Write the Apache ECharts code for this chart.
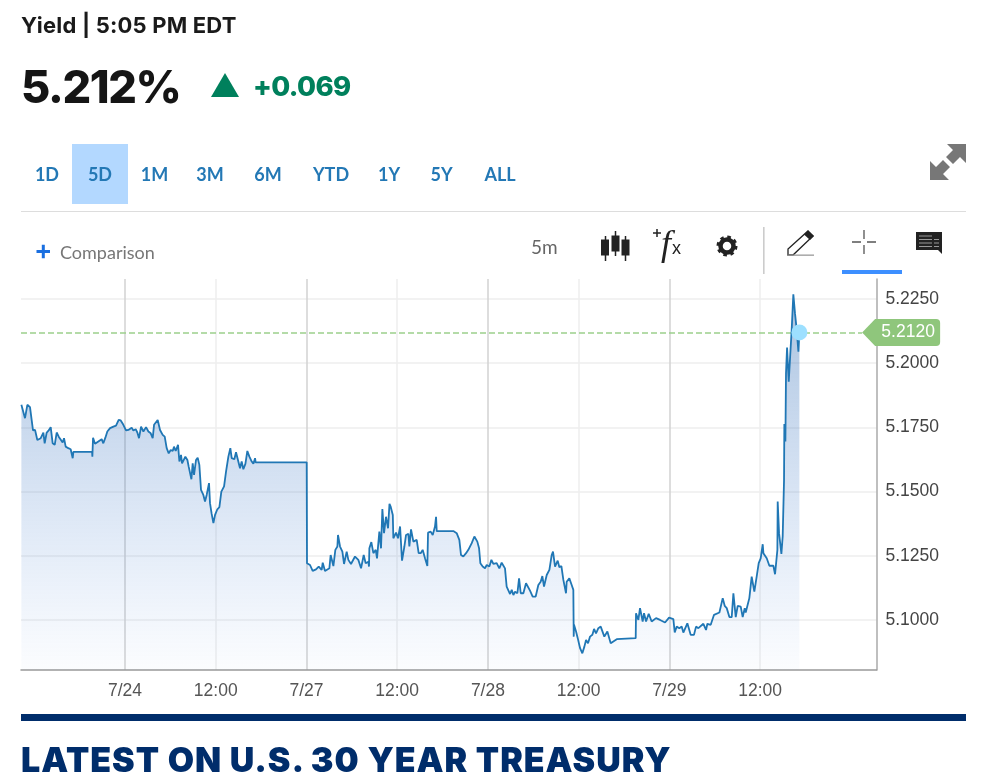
<!DOCTYPE html>
<html><head><meta charset="utf-8">
<style>
html,body{margin:0;padding:0;background:#fff;width:990px;height:781px;overflow:hidden;font-family:Lato,"Open Sans",sans-serif}
#chart{position:absolute;left:0;top:0;width:990px;height:781px}
.t{position:absolute;white-space:nowrap;line-height:1}
.tab{position:absolute;top:164px;font-size:18px;line-height:20px;font-weight:700;color:#2378b5;transform:translateX(-50%)}
</style></head><body>
<div id="chart"></div>
<div class="t" style="left:21px;top:14px;font-family:Inter;font-size:22px;font-weight:700;letter-spacing:.2px;color:#1a1a1a">Yield | 5:05 PM EDT</div>
<div class="t" style="left:21px;top:64px;font-family:Inter;font-size:45px;font-weight:800;letter-spacing:-1.4px;color:#151515">5.212%</div>
<div class="t" style="left:253px;top:73px;font-family:Inter;font-size:27.5px;font-weight:800;letter-spacing:-.6px;color:#00805c">+0.069</div>
<svg style="position:absolute;left:0;top:0" width="990" height="781">
 <polygon points="211,97 225,73 239,97" fill="#00805c"/>
 <rect x="72" y="144" width="56" height="60" fill="#b3d8ff"/>
 <rect x="21" y="211" width="945" height="1" fill="#ddd"/>
 <path d="M36.5 251.5H50M43.3 244.7V258.3" stroke="#1a6fe0" stroke-width="3" fill="none"/>
 <g fill="#222" stroke="#222">
  <path d="M605.500 236V261M615.500 231V256M625.500 236V261" stroke-width="1.5"/>
  <rect x="601.500" y="240" width="7" height="15"/><rect x="612" y="236" width="7" height="15"/><rect x="622" y="240" width="7" height="15"/>
 </g>
 <path d="M656 230V238M652 234H660" stroke="#222" stroke-width="1.5" fill="none" transform="translate(1,-1)"/>
 <text x="661" y="255" font-family="Liberation Serif" font-style="italic" font-size="36" fill="#222">f</text>
 <text x="672" y="254" font-family="Liberation Sans" font-size="18" fill="#222">x</text>
 <circle cx="727" cy="246" r="6.500" fill="none" stroke="#222" stroke-width="4.5"/>
 <circle cx="727" cy="246" r="9" fill="none" stroke="#222" stroke-width="3" stroke-dasharray="3.5 3.57"/>
 <rect x="763" y="227" width="1.6" height="47" fill="#ccc"/>
 <path d="M788 255V249L808 231L813 236L793 255Z" fill="none" stroke="#222" stroke-width="1.3"/>
 <path d="M804 234.500L808 230.500L814 236L810 240Z" fill="#222"/>
 <rect x="788" y="254.500" width="26" height="1.3" fill="#999"/>
 <path d="M852 242H861M867 242H876M864 230V239M864 245V254" stroke="#555" stroke-width="1.3" fill="none"/>
 <rect x="842" y="270" width="60" height="4" fill="#3d8fff"/>
 <path d="M916 232H942V254L938 250H916Z" fill="#222"/>
 <path d="M919 236H932M919 239.500H932M919 243H932M919 246.500H932M934 239.500H939M934 243H939M934 246.500H939" stroke="#999" stroke-width="1"/>
 <g fill="#777">
  <path d="M947 144H966V163L960 157L953 164L946 157L953 150Z"/>
  <path d="M930 161L936 167L943 160L950 167L943 174L949 180H930Z"/>
 </g>
 <rect x="21" y="714" width="945" height="7" fill="#002d6b"/>
</svg>
<div class="tab" style="left:47px">1D</div><div class="tab" style="left:100px">5D</div>
<div class="tab" style="left:154.500px">1M</div><div class="tab" style="left:210px">3M</div>
<div class="tab" style="left:268px">6M</div><div class="tab" style="left:331px">YTD</div>
<div class="tab" style="left:389px">1Y</div><div class="tab" style="left:441.500px">5Y</div>
<div class="tab" style="left:500px">ALL</div>
<div class="t" style="left:60px;top:243px;font-size:18px;color:#777">Comparison</div>
<div class="t" style="left:531px;top:237px;font-size:19px;color:#666">5m</div>
<div class="t" style="left:21px;top:743px;font-family:Inter;font-size:34px;font-weight:900;color:#002d6b;letter-spacing:.95px">LATEST ON U.S. 30 YEAR TREASURY</div>

<script src="https://cdn.jsdelivr.net/npm/echarts@6/dist/echarts.min.js"></script>
<script>
// hours since 7/24 00:00 with the weekend removed (7/27 = 24, 7/28 = 48, 7/29 = 72), yield in %
const pointsJul24 = [[-13.71,5.1834],[-13.45,5.1830],[-13.23,5.1782],[-12.92,5.1834],[-12.74,5.1837],[-12.57,5.1825],[-12.35,5.1827],[-12.17,5.1734],[-11.90,5.1736],[-11.60,5.1697],[-11.42,5.1691],[-11.15,5.1704],[-10.93,5.1697],[-10.80,5.1726],[-10.63,5.1684],[-10.36,5.1726],[-10.10,5.1734],[-9.83,5.1747],[-9.57,5.1684],[-9.30,5.1678],[-9.04,5.1726],[-8.77,5.1710],[-8.51,5.1706],[-8.25,5.1687],[-8.07,5.1704],[-7.85,5.1671],[-7.50,5.1665],[-7.19,5.1661],[-6.92,5.1626],[-6.83,5.1651],[-4.36,5.1651],[-4.32,5.1632],[-4.23,5.1706],[-3.97,5.1682],[-3.53,5.1691],[-3.09,5.1700],[-2.87,5.1684],[-2.60,5.1706],[-2.34,5.1730],[-1.98,5.1743],[-1.54,5.1749],[-1.19,5.1753],[-0.84,5.1775],[-0.57,5.1773],[-0.22,5.1756],[0.13,5.1734],[0.44,5.1736],[0.88,5.1745],[1.10,5.1734],[1.41,5.1739],[1.63,5.1726],[1.85,5.1704],[2.12,5.1749],[2.43,5.1730],[2.78,5.1747],[3.09,5.1730],[3.40,5.1723],[3.66,5.1704],[3.84,5.1756],[4.10,5.1758],[4.32,5.1775],[4.63,5.1736],[4.98,5.1717],[5.25,5.1710],[5.51,5.1665],[5.78,5.1645],[6.04,5.1658],[6.31,5.1654],[6.48,5.1671],[6.70,5.1654],[7.01,5.1678],[7.19,5.1613],[7.41,5.1639],[7.54,5.1606],[7.80,5.1606],[7.98,5.1632],[8.25,5.1619],[8.42,5.1593],[8.60,5.1587],[8.78,5.1544],[8.95,5.1606],[9.13,5.1561],[9.39,5.1619],[9.61,5.1628],[9.83,5.1600],[10.05,5.1503],[10.36,5.1483],[10.58,5.1457],[10.80,5.1483],[11.02,5.1477],[11.11,5.1529],[11.24,5.1451],[11.46,5.1409],[11.69,5.1373],[11.91,5.1405],[12.21,5.1427],[12.48,5.1435],[12.74,5.1496],[13.10,5.1516],[13.36,5.1574],[13.58,5.1580],[13.67,5.1632],[13.93,5.1665],[14.11,5.1626],[14.46,5.1622],[14.68,5.1649],[14.90,5.1649],[15.21,5.1587],[15.43,5.1613],[15.65,5.1583],[15.92,5.1604],[16.18,5.1654],[16.45,5.1632],[16.76,5.1613],[16.98,5.1604],[17.20,5.1626],[17.28,5.1610],[24.03,5.1610]];
const pointsJul27 = [[24.07,5.1217],[24.47,5.1210],[24.82,5.1187],[25.26,5.1193],[25.62,5.1204],[26.01,5.1191],[26.15,5.1219],[26.45,5.1187],[26.68,5.1191],[27.03,5.1197],[27.20,5.1249],[27.56,5.1206],[27.82,5.1269],[28.09,5.1282],[28.17,5.1327],[28.44,5.1282],[28.75,5.1262],[28.97,5.1214],[29.32,5.1262],[29.54,5.1230],[29.89,5.1214],[30.42,5.1243],[30.86,5.1230],[31.22,5.1197],[31.57,5.1249],[31.83,5.1217],[32.19,5.1223],[32.27,5.1204],[32.32,5.1275],[32.58,5.1299],[32.85,5.1256],[33.16,5.1269],[33.33,5.1236],[33.64,5.1340],[33.86,5.1275],[34.04,5.1428],[34.26,5.1334],[34.52,5.1398],[34.79,5.1353],[34.98,5.1448],[35.14,5.1437],[35.42,5.1405],[35.49,5.1314],[35.85,5.1336],[36.11,5.1314],[36.38,5.1360],[36.64,5.1227],[36.95,5.1282],[37.17,5.1327],[37.48,5.1331],[37.61,5.1282],[37.83,5.1349],[38.14,5.1301],[38.58,5.1308],[38.84,5.1256],[39.11,5.1256],[39.37,5.1269],[39.68,5.1236],[39.99,5.1206],[40.08,5.1336],[40.43,5.1340],[40.70,5.1327],[41.00,5.1360],[41.14,5.1398],[41.23,5.1342],[43.43,5.1342],[43.87,5.1334],[44.22,5.1308],[44.44,5.1249],[44.75,5.1243],[45.11,5.1256],[45.41,5.1269],[45.86,5.1295],[46.21,5.1321],[46.60,5.1301],[46.83,5.1275],[47.00,5.1217],[47.31,5.1204],[47.62,5.1197],[47.84,5.1210]];
const pointsJul28 = [[48.19,5.1204],[48.46,5.1230],[48.72,5.1214],[49.16,5.1217],[49.51,5.1197],[49.82,5.1219],[50.26,5.1197],[50.48,5.1126],[50.93,5.1097],[51.15,5.1113],[51.37,5.1093],[51.59,5.1106],[51.90,5.1100],[52.12,5.1158],[52.34,5.1100],[52.69,5.1100],[53.04,5.1139],[53.57,5.1110],[53.92,5.1087],[54.32,5.1087],[54.67,5.1132],[54.98,5.1145],[55.20,5.1167],[55.42,5.1126],[55.78,5.1171],[56.13,5.1191],[56.44,5.1249],[56.61,5.1262],[56.88,5.1204],[57.23,5.1227],[57.45,5.1201],[57.72,5.1206],[57.98,5.1152],[58.33,5.1100],[58.42,5.1145],[58.77,5.1158],[59.08,5.1132],[59.30,5.1113],[59.35,5.0931],[59.39,5.0977],[59.66,5.0951],[59.88,5.0925],[60.19,5.0886],[60.49,5.0866],[60.76,5.0892],[60.98,5.0918],[61.24,5.0905],[61.51,5.0931],[61.82,5.0938],[62.04,5.0961],[62.30,5.0944],[62.61,5.0964],[62.92,5.0970],[63.40,5.0931],[63.80,5.0951],[64.24,5.0905],[64.59,5.0912],[64.81,5.0918],[65.04,5.0921],[65.26,5.0925],[67.55,5.0925],[67.59,5.1022],[67.90,5.0996],[68.12,5.1042],[68.47,5.0990],[68.65,5.1022],[68.92,5.0990],[69.27,5.1020],[69.66,5.0990],[70.24,5.1003],[70.77,5.0996],[71.43,5.0986],[71.96,5.1005]];
const pointsJul29 = [[72.53,5.0999],[72.71,5.0947],[72.97,5.0970],[73.32,5.0964],[73.63,5.0970],[73.85,5.0947],[74.38,5.0983],[74.82,5.0938],[75.26,5.0938],[75.53,5.0970],[75.84,5.0964],[76.50,5.0981],[76.85,5.0957],[77.03,5.0981],[77.47,5.0977],[77.91,5.1016],[78.62,5.1025],[79.06,5.1081],[79.32,5.1051],[79.59,5.1042],[79.94,5.1007],[80.25,5.1007],[80.47,5.1100],[80.78,5.1007],[81.04,5.1051],[81.44,5.1048],[81.70,5.1007],[81.97,5.1042],[82.10,5.1025],[82.58,5.1081],[82.89,5.1165],[83.11,5.1171],[83.24,5.1106],[83.55,5.1165],[83.82,5.1217],[84.08,5.1236],[84.35,5.1291],[84.44,5.1256],[84.88,5.1236],[85.23,5.1207],[85.76,5.1207],[85.98,5.1174],[86.29,5.1269],[86.33,5.1457],[86.51,5.1334],[86.82,5.1253],[86.99,5.1321],[87.17,5.1541],[87.21,5.1759],[87.35,5.1691],[87.43,5.1957],[87.57,5.2057],[87.79,5.1924],[88.05,5.2060],[88.18,5.2125],[88.40,5.2264],[88.62,5.2190],[88.85,5.2125],[89.07,5.2041],[89.20,5.2120]];
const xTicks = [0,12,24,36,48,60,72,84];
const xTickLabels = ['7/24','12:00','7/27','12:00','7/28','12:00','7/29','12:00'];
const yTicks = [5.1,5.125,5.15,5.175,5.2,5.225];
const lastYield = 5.212;
const lastHour = 89.2;
// the readings above were taken against a grid one pixel off; this restores them to the axis
const readingCorrection = 0.0004;

const points = [...pointsJul24,...pointsJul27,...pointsJul28,...pointsJul29].map(p=>[p[0],p[1]+readingCorrection]);
const chart = echarts.init(document.getElementById('chart'),null,{renderer:'canvas'});
const labelFont = {fontFamily:'Liberation Sans, Arial, sans-serif',fontSize:17.5,color:'#444'};
const dashStyle = {color:'#9ccf8c',type:'dashed',dashOffset:0,width:1.5,opacity:1};
chart.setOption({
  animation:false,
  grid:{left:21,right:113.5,top:279,bottom:111},
  xAxis:{type:'value',min:-13.76,max:99.4,
    axisLine:{onZero:false,lineStyle:{color:'#999',width:1.5}},
    axisTick:{show:false,customValues:xTicks},
    axisLabel:{...labelFont,margin:12,color:'#555',customValues:xTicks,formatter:v=>xTickLabels[xTicks.indexOf(v)]},
    splitLine:{show:true,lineStyle:{color:['#d2d2d2','#eeeeee'],width:1.5}}},
  yAxis:{type:'value',position:'right',min:5.0805,max:5.2328,
    axisLine:{show:true,onZero:false,lineStyle:{color:'#aaa',width:1.5}},
    axisTick:{show:false,customValues:yTicks},
    axisLabel:{...labelFont,margin:9,customValues:yTicks,formatter:v=>v.toFixed(4)},
    splitLine:{show:true,lineStyle:{color:'#eeeeee',width:1.5}}},
  series:[
   {type:'line',data:points,showSymbol:false,symbol:'none',smooth:false,z:3,
    lineStyle:{color:'#2077b5',width:1.8},
    areaStyle:{opacity:1,color:{type:'linear',x:0,y:0,x2:0,y2:1,colorStops:[
      {offset:0,color:'rgba(31,95,170,0.38)'},{offset:1,color:'rgba(70,130,220,0.02)'}]}},
    markLine:{silent:true,symbol:'none',label:{show:false},z:2,
      lineStyle:dashStyle,
      data:[[{coord:[-13.76,lastYield],lineStyle:dashStyle},{coord:[97.5,lastYield],lineStyle:dashStyle}]]}
   },
   {type:'scatter',data:[[lastHour,lastYield]],symbolSize:16,z:5,
    itemStyle:{color:'#9de0ff',opacity:1},
    markPoint:{silent:true,z:6,
      symbol:'path://M0 13.500L13 0H74Q78 0 78 4V23Q78 27 74 27H13Z',symbolSize:[78,27],symbolOffset:[39,0],
      itemStyle:{color:'#8fc67c'},
      label:{show:true,position:'inside',offset:[7,0],color:'#fff',fontFamily:'Liberation Sans, Arial, sans-serif',fontSize:17.5,
             formatter:()=>lastYield.toFixed(4)},
      data:[{coord:[97.5,lastYield]}]}
   }
  ]
});
</script>
</body></html>
